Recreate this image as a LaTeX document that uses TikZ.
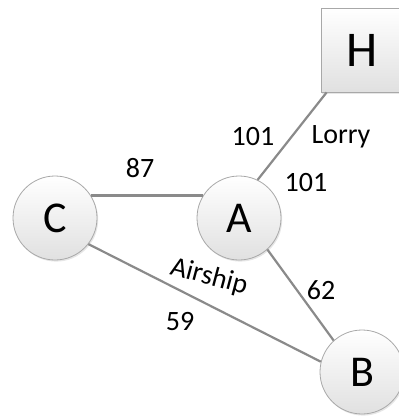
\documentclass[tikz,border=0pt]{standalone}
\usepackage{fontspec}
\setmainfont{Carlito}
\usepackage{tikz}
\usetikzlibrary{shadows}

\definecolor{edgegray}{HTML}{8A8A8A}
\definecolor{rimgray}{HTML}{A8A8A8}

\begin{document}
\begin{tikzpicture}[
    x=0.5pt, y=-0.5pt,
    town/.style={circle, draw=rimgray, line width=0.4pt, minimum size=42pt, inner sep=0pt,
        top color=white, bottom color=black!12, font=\fontsize{22}{22}\selectfont,
        drop shadow={shadow xshift=0.6pt, shadow yshift=-0.8pt, opacity=0.2}},
    hub/.style={rectangle, draw=rimgray, line width=0.4pt, minimum width=41pt, minimum height=42pt,
        inner sep=0pt, top color=white, bottom color=black!12, font=\fontsize{25}{25}\selectfont,
        drop shadow={shadow xshift=0.6pt, shadow yshift=-0.8pt, opacity=0.2}},
    road/.style={draw=edgegray, line width=1.1pt},
    cost/.style={font=\fontsize{14}{14}\selectfont, inner sep=0pt}
]
    \useasboundingbox (0,0) rectangle (398,417);

    \node[hub]  (H) at (362,50)  {H};
    \node[town] (A) at (239,218) {A};
    \node[town] (C) at (55,218)  {C};
    \node[town] (B) at (362,372) {B};

    % roads
    \draw[road] (C.32)  -- (A.148);
    \draw[road] (A.64)  -- ([xshift=3pt]H.south west);
    \draw[road] (A.-48) -- (B.132);
    \draw[road] (C.-38) -- (B.166);

    % labels
    \node[cost] (lCA)  at (140,168) {87};
    \node[cost] (lAH1) at (253,137) {101};
    \node[cost] (lAH2) at (341,137) {Lorry};
    \node[cost] (lAH3) at (306,183) {101};
    \node[cost, rotate=-15] (lCB1) at (209,277) {Airship};
    \node[cost] (lAB)  at (321,290) {62};
    \node[cost] (lCB2) at (180,322) {59};
\end{tikzpicture}
\end{document}
